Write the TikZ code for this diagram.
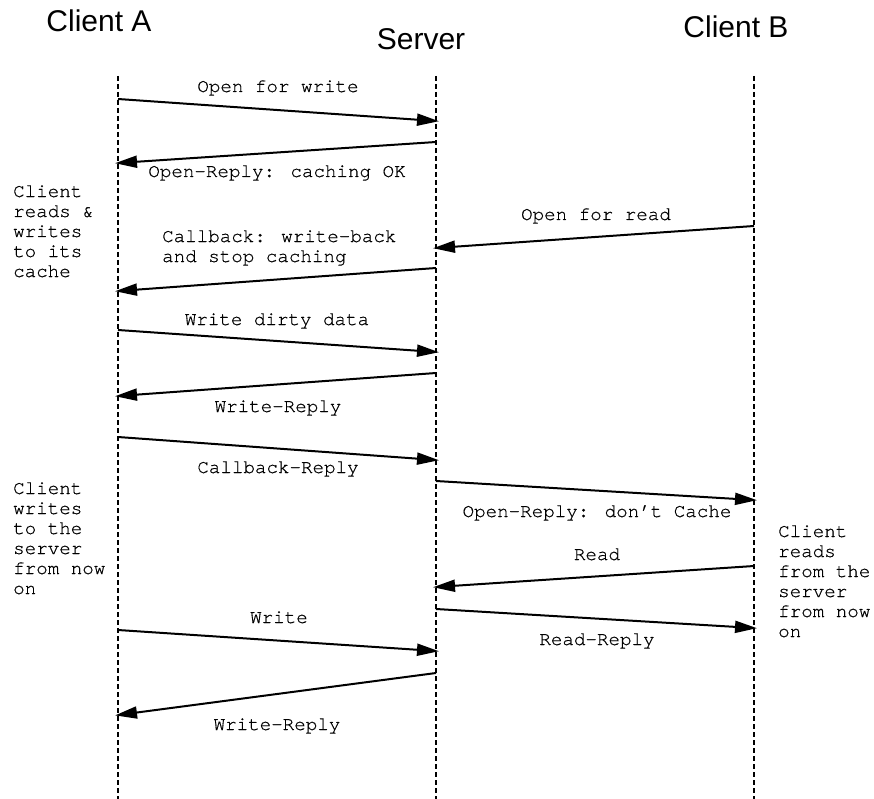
\documentclass[tikz,border=0pt]{standalone}
\usepackage{fontspec}
\setmainfont{Liberation Sans}
\newfontfamily\monofont[FakeBold=0.6]{TeX Gyre Cursor}
\usetikzlibrary{arrows.meta}
\tikzset{
  lifeline/.style={line width=2.4pt, dash pattern=on 5pt off 3pt},
  msg/.style={line width=2pt, -{Triangle[length=22pt,width=12pt]}, shorten >=-3pt},
  lbl/.style={font=\monofont\fontsize{19.2}{20}\selectfont, inner sep=0pt, anchor=base},
  note/.style={font=\monofont\fontsize{19.2}{20}\selectfont, inner sep=0pt, anchor=base west, align=left},
  head/.style={font=\fontsize{30}{34}\selectfont, inner sep=0pt, anchor=base}
}
\begin{document}
\begin{tikzpicture}[x=1pt,y=-1pt]
\useasboundingbox (0,0) rectangle (874,799);
% headers
\node[head] (hA) at (99,32) {Client A};
\node[head] (hS) at (421,50) {Server};
\node[head] (hB) at (736,38) {Client B};
% lifelines
\coordinate (Atop) at (118,76); \coordinate (Abot) at (118,799);
\coordinate (Stop) at (436,76); \coordinate (Sbot) at (436,799);
\coordinate (Btop) at (754,76); \coordinate (Bbot) at (754,799);
\draw[lifeline] (Atop) -- (Abot);
\draw[lifeline] (Stop) -- (Sbot);
\draw[lifeline] (Btop) -- (Bbot);
% endpoints
\coordinate (m1s) at (118,99);  \coordinate (m1e) at (436,121);
\coordinate (m2s) at (436,142); \coordinate (m2e) at (118,163);
\coordinate (m3s) at (754,226); \coordinate (m3e) at (436,248);
\coordinate (m4s) at (436,268); \coordinate (m4e) at (118,291);
\coordinate (m5s) at (118,330); \coordinate (m5e) at (436,352);
\coordinate (m6s) at (436,373); \coordinate (m6e) at (118,396);
\coordinate (m7s) at (118,437); \coordinate (m7e) at (436,460);
\coordinate (m8s) at (436,481); \coordinate (m8e) at (754,500);
\coordinate (m9s) at (754,566); \coordinate (m9e) at (436,587);
\coordinate (m10s) at (436,609); \coordinate (m10e) at (754,628);
\coordinate (m11s) at (118,630); \coordinate (m11e) at (436,651);
\coordinate (m12s) at (436,673); \coordinate (m12e) at (118,715);
\foreach \i in {1,...,12} {\draw[msg] (m\i s) -- (m\i e);}
% labels
\node[lbl] (l1) at (278,92) {Open for write};
\node[lbl] (l2) at (277,177) {Open-Reply: caching OK};
\node[lbl] (l3) at (596,220) {Open for read};
\node[note] (l4) at (162,262) {Callback: write-back\\and stop caching};
\node[lbl] (l5) at (277,325) {Write dirty data};
\node[lbl] (l6) at (278,412) {Write-Reply};
\node[lbl] (l7) at (278,473) {Callback-Reply};
\node[lbl] (l8) at (597,517) {Open-Reply: don’t Cache};
\node[lbl] (l9) at (597,560) {Read};
\node[lbl] (l10) at (597,645) {Read-Reply};
\node[lbl] (l11) at (279,623) {Write};
\node[lbl] (l12) at (277,730) {Write-Reply};
% side notes
\node[note] (nA1) at (13,277) {Client\\reads \&\\writes\\to its\\cache};
\node[note] (nA2) at (13,594) {Client\\writes\\to the\\server\\from now\\on};
\node[note] (nB) at (778,637) {Client\\reads\\from the\\server\\from now\\on};
\end{tikzpicture}
\end{document}
